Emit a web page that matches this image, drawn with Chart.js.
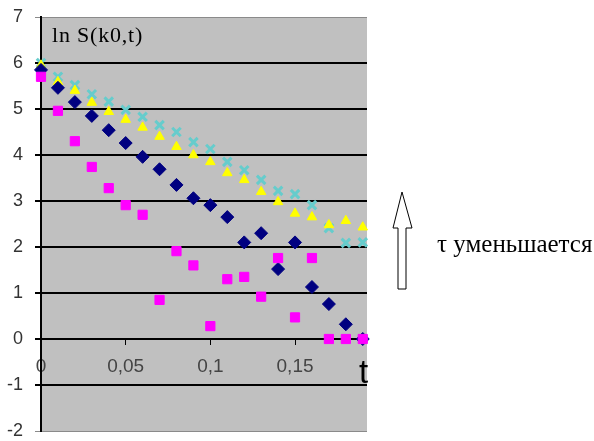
<!DOCTYPE html>
<html>
<head>
<meta charset="utf-8">
<script src="https://cdn.jsdelivr.net/npm/chart.js@4.4.1/dist/chart.umd.min.js"></script>
<style>
    body { margin: 0; background: #fff; }
    #wrap { position: relative; width: 594px; height: 441px; }
    .note { position: absolute; white-space: nowrap; color: #000; }
    #lbl-ln { left: 52px; top: 22px; font: 22px "Liberation Serif", serif; letter-spacing: 0.8px; }
    #lbl-t { left: 359px; top: 353px; font: 33px "Liberation Sans", Arial, sans-serif; }
    #lbl-tau { left: 437px; top: 230px; font: 25px "Liberation Serif", serif; }
    #arrow { position: absolute; left: 390px; top: 190px; }
</style>
</head>
<body>
<div id="wrap">
    <canvas id="chart" width="594" height="441"></canvas>
    <div class="note" id="lbl-ln">ln S(k0,t)</div>
    <div class="note" id="lbl-t">t</div>
    <div class="note" id="lbl-tau">τ уменьшается</div>
    <svg id="arrow" width="26" height="102">
        <polygon points="12,2 3,38 8,38 8,99 16,99 16,38 22,38" fill="#fff" stroke="#000" stroke-width="1"/>
    </svg>
</div>
<script>
// данные: ln S(k0,t) при разных tau
const tValues = [0, 0.01, 0.02, 0.03, 0.04, 0.05, 0.06, 0.07, 0.08, 0.09,
                 0.10, 0.11, 0.12, 0.13, 0.14, 0.15, 0.16, 0.17, 0.18, 0.19];
const blueSeries = [5.85, 5.46, 5.15, 4.85, 4.54, 4.26, 3.96, 3.69, 3.35, 3.06,
                    2.91, 2.65, 2.1, 2.3, 1.52, 2.1, 1.13, 0.76, 0.32, 0.0];
const magentaSeries = [5.7, 4.96, 4.3, 3.74, 3.28, 2.91, 2.7, 0.85, 1.91, 1.6,
                       0.28, 1.3, 1.35, 0.92, 1.76, 0.47, 1.76, 0.0, 0.0, 0.0];
const yellowSeries = [5.95, 5.59, 5.4, 5.14, 4.94, 4.77, 4.6, 4.4, 4.18, 4.0,
                      3.85, 3.61, 3.46, 3.2, 2.98, 2.73, 2.65, 2.48, 2.57, 2.43];
const cyanSeries = [6.0, 5.7, 5.52, 5.32, 5.16, 4.98, 4.83, 4.65, 4.5, 4.28,
                    4.13, 3.85, 3.67, 3.46, 3.22, 3.15, 2.91, 2.41, 2.09, 2.1];
const xTicks = [0, 0.05, 0.1, 0.15];
const yTicks = [-2, -1, 0, 1, 2, 3, 4, 5, 6, 7];

function toPoints(values) {
    return tValues.map((t, i) => ({ x: t, y: values[i] }));
}

// серый фон области построения
const plotBackground = {
    id: 'plotBackground',
    beforeDraw(chart) {
        const a = chart.chartArea;
        const ctx = chart.ctx;
        ctx.save();
        ctx.fillStyle = '#c0c0c0';
        ctx.fillRect(a.left, a.top, a.right - a.left, a.bottom - a.top);
        ctx.restore();
    }
};

const ctx = document.getElementById('chart').getContext('2d');
const chart = new Chart(ctx, {
    type: 'scatter',
    data: {
        datasets: [
            {
                label: 'm',
                data: toPoints(magentaSeries),
                pointStyle: 'rect',
                pointRadius: 6.5,
                backgroundColor: '#ff00ff',
                borderColor: '#ff00ff',
                borderWidth: 1,
                clip: false
            },
            {
                label: 'b',
                data: toPoints(blueSeries),
                pointStyle: 'rectRot',
                pointRadius: 6.5,
                backgroundColor: '#000080',
                borderColor: '#000080',
                borderWidth: 1,
                clip: false
            },
            {
                label: 'y',
                data: toPoints(yellowSeries),
                pointStyle: 'triangle',
                pointRadius: 5.5,
                backgroundColor: '#ffff00',
                borderColor: '#ffff00',
                borderWidth: 1,
                clip: false
            },
            {
                label: 'c',
                data: toPoints(cyanSeries),
                pointStyle: 'crossRot',
                pointRadius: 6,
                backgroundColor: '#66cccc',
                borderColor: '#66cccc',
                borderWidth: 3,
                clip: false
            }
        ]
    },
    options: {
        responsive: false,
        animation: false,
        events: [],
        layout: { padding: { left: 0, top: 17, right: 227, bottom: 10 } },
        plugins: {
            legend: { display: false },
            tooltip: { enabled: false }
        },
        scales: {
            x: {
                type: 'linear',
                position: { y: 0 },
                min: 0,
                max: 0.1925,
                afterBuildTicks: scale => {
                    scale.ticks = xTicks.map(v => ({ value: v }));
                },
                afterFit: scale => { scale.height = 0; scale.paddingLeft = 0; scale.paddingRight = 0; },
                grid: {
                    drawOnChartArea: false,
                    drawTicks: true,
                    tickLength: 5,
                    color: '#000'
                },
                border: { display: true, color: '#000', width: 2 },
                ticks: {
                    padding: 11,
                    maxRotation: 0,
                    color: '#444',
                    font: { family: '"Liberation Sans", Arial, sans-serif', size: 19 },
                    callback: v => String(v).replace('.', ',')
                }
            },
            y: {
                type: 'linear',
                min: -2,
                max: 7,
                afterBuildTicks: scale => {
                    scale.ticks = yTicks.map(v => ({ value: v }));
                },
                afterFit: scale => { scale.width = 41; scale.paddingTop = 0; scale.paddingBottom = 0; },
                grid: {
                    color: c => (c.tick && (c.tick.value === 7 || c.tick.value === -2)) ? '#8a8a8a' : '#000',
                    lineWidth: c => (c.tick && (c.tick.value === 7 || c.tick.value === -2)) ? 1 : 2,
                    tickLength: 6
                },
                border: { display: true, color: '#000', width: 2 },
                ticks: {
                    padding: 12,
                    color: '#333',
                    font: { family: '"Liberation Sans", Arial, sans-serif', size: 18 }
                }
            }
        }
    },
    plugins: [plotBackground]
});
</script>
</body>
</html>
